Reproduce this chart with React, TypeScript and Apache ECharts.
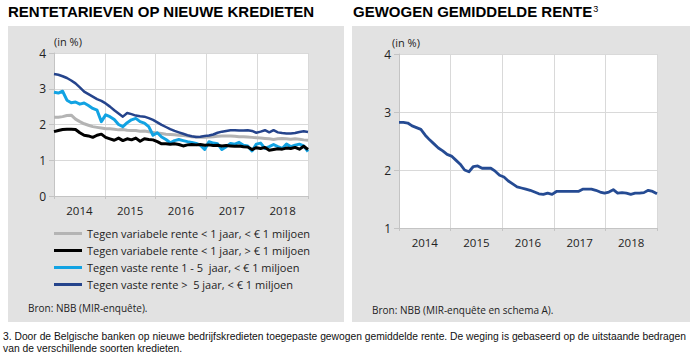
import React, { useEffect, useRef } from "react";
import * as echarts from "echarts";

const years = ["2014", "2015", "2016", "2017", "2018"];

const variabeleKlein = [
  2.2, 2.2, 2.22, 2.25, 2.26, 2.15, 2.08, 2.02, 1.98, 1.94,
  1.92, 1.9, 1.88, 1.88, 1.87, 1.85, 1.86, 1.84, 1.83, 1.83,
  1.81, 1.82, 1.8, 1.78, 1.76, 1.75, 1.73, 1.72, 1.71, 1.7,
  1.69, 1.68, 1.66, 1.65, 1.64, 1.64, 1.65, 1.66, 1.67, 1.68,
  1.68, 1.68, 1.67, 1.66, 1.66, 1.65, 1.64, 1.63, 1.62, 1.61,
  1.6, 1.58, 1.6, 1.61, 1.6, 1.59, 1.6, 1.59, 1.57, 1.56,
];

const variabeleGroot = [
  1.8, 1.83, 1.86, 1.87, 1.87, 1.86, 1.77, 1.7, 1.68, 1.64,
  1.7, 1.73, 1.64, 1.6, 1.56, 1.62, 1.55, 1.6, 1.57, 1.62,
  1.53, 1.6, 1.58, 1.57, 1.52, 1.46, 1.46, 1.45, 1.46, 1.44,
  1.4, 1.43, 1.44, 1.43, 1.44, 1.42, 1.43, 1.41, 1.42, 1.4,
  1.41, 1.4, 1.39, 1.4, 1.38, 1.37, 1.3, 1.35, 1.33, 1.36,
  1.28, 1.3, 1.32, 1.31, 1.34, 1.33, 1.36, 1.31, 1.39, 1.3,
];

const vasteKort = [
  2.9, 2.88, 2.93, 2.68, 2.61, 2.63, 2.57, 2.6, 2.53, 2.45,
  2.4, 2.08, 2.27, 2.22, 2.14, 2.0, 1.94, 2.05, 2.13, 2.17,
  2.08, 2.04, 1.94, 1.7, 1.77, 1.65, 1.58, 1.49, 1.55, 1.58,
  1.55, 1.52, 1.5, 1.47, 1.42, 1.3, 1.52, 1.48, 1.46, 1.3,
  1.38, 1.47, 1.45, 1.5, 1.42, 1.4, 1.26, 1.45, 1.48, 1.33,
  1.38, 1.44, 1.38, 1.33, 1.45, 1.38, 1.42, 1.45, 1.4, 1.24,
];

const vasteLang = [
  3.41, 3.39, 3.35, 3.3, 3.23, 3.15, 3.04, 2.92, 2.85, 2.78,
  2.71, 2.66, 2.59, 2.5, 2.4, 2.31, 2.22, 2.32, 2.29, 2.25,
  2.23, 2.22, 2.18, 2.13, 2.06, 1.99, 1.93, 1.87, 1.82, 1.78,
  1.74, 1.7, 1.67, 1.65, 1.66, 1.68, 1.69, 1.72, 1.77, 1.8,
  1.82, 1.84, 1.84, 1.83, 1.83, 1.84, 1.82, 1.77, 1.8, 1.84,
  1.78, 1.84, 1.78, 1.76, 1.75, 1.75, 1.76, 1.79, 1.81, 1.79,
];

const gewogen = [
  2.82, 2.82, 2.81, 2.76, 2.73, 2.7, 2.6, 2.52, 2.45, 2.38,
  2.33, 2.27, 2.24, 2.17, 2.1, 2.0, 1.97, 2.06, 2.07, 2.03,
  2.03, 2.03, 1.98, 1.91, 1.88, 1.81, 1.76, 1.71, 1.69, 1.67,
  1.65, 1.62, 1.59, 1.58, 1.6, 1.58, 1.63, 1.63, 1.63, 1.63,
  1.63, 1.63, 1.67, 1.67, 1.67, 1.65, 1.62, 1.6, 1.62, 1.66,
  1.6, 1.61, 1.6, 1.58, 1.6, 1.6, 1.61, 1.65, 1.63, 1.59,
];

const seriesNames = [
  "Tegen variabele rente < 1 jaar, < € 1 miljoen",
  "Tegen variabele rente < 1 jaar, > € 1 miljoen",
  "Tegen vaste rente 1 - 5  jaar, < € 1 miljoen",
  "Tegen vaste rente >  5 jaar, < € 1 miljoen",
];

const FONT = "'Open Sans', 'Noto Sans', sans-serif";
const ARIAL = "'Liberation Sans', Arial, sans-serif";

const toPoints = (arr: number[]) => arr.map((v, i) => [i, v]);

export default function App() {
  const ref = useRef<HTMLDivElement>(null);

  useEffect(() => {
    const chart = echarts.init(ref.current!, null, { renderer: "svg" });

    const catAxis = (gridIndex: number) => ({
      type: "category",
      gridIndex,
      data: years,
      boundaryGap: true,
      position: "bottom",
      axisLine: { show: true, lineStyle: { color: "#c4c4c4", width: 1 } },
      axisTick: { show: true, length: 3, lineStyle: { color: "#c4c4c4" } },
      axisLabel: { fontSize: 11.5, color: "#222", margin: 8, fontFamily: FONT },
      splitLine: { show: true, lineStyle: { color: "#d9d9d9", width: 1 } },
    });
    const valAxisX = (gridIndex: number) => ({
      type: "value",
      gridIndex,
      min: 0,
      max: 59,
      show: false,
    });
    const yAxis = (gridIndex: number, min: number) => ({
      type: "value",
      gridIndex,
      min,
      max: 4,
      interval: 1,
      axisLine: { show: true, lineStyle: { color: "#c4c4c4" } },
      axisTick: { show: true, length: 5, lineStyle: { color: "#c4c4c4" } },
      axisLabel: { fontSize: 12, color: "#222", margin: 8, fontFamily: FONT },
      splitLine: { show: true, lineStyle: { color: "#d9d9d9", width: 1 } },
    });

    const lineSeries = (
      name: string,
      data: number[],
      color: string,
      width: number,
      xAxisIndex: number,
      yAxisIndex: number,
      z: number
    ) => ({
      type: "line",
      name,
      data: toPoints(data),
      xAxisIndex,
      yAxisIndex,
      showSymbol: false,
      symbol: "none",
      z,
      lineStyle: { color, width, join: "round" },
      itemStyle: { color },
    });

    chart.setOption({
      animation: false,
      grid: [
        { left: 54, top: 53, width: 254, height: 143, show: true, backgroundColor: "#ffffff", borderWidth: 0 },
        { left: 399, top: 54, width: 258, height: 174, show: true, backgroundColor: "#ffffff", borderWidth: 0 },
      ],
      xAxis: [valAxisX(0), catAxis(0), valAxisX(1), catAxis(1)],
      yAxis: [yAxis(0, 0), yAxis(1, 1)],
      legend: {
        show: true,
        orient: "vertical",
        left: 54,
        top: 227,
        padding: 0,
        icon: "rect",
        itemWidth: 28,
        itemHeight: 3,
        itemGap: 4,
        itemStyle: { borderWidth: 0, borderColor: "transparent" },
        data: seriesNames,
        textStyle: { fontSize: 11, color: "#222", fontFamily: FONT, lineHeight: 13 },
      },
      series: [
        lineSeries(seriesNames[0], variabeleKlein, "#b4b4b4", 3, 0, 0, 2),
        lineSeries(seriesNames[3], vasteLang, "#25448c", 2.5, 0, 0, 3),
        lineSeries(seriesNames[2], vasteKort, "#12a3e3", 3, 0, 0, 4),
        lineSeries(seriesNames[1], variabeleGroot, "#000000", 3, 0, 0, 5),
        lineSeries("Gewogen gemiddelde rente", gewogen, "#254b93", 2.8, 2, 1, 2),
      ],
      graphic: [
        { type: "rect", z: -10, shape: { x: 8, y: 26, width: 336, height: 296 }, style: { fill: "#e2e2e2" } },
        { type: "rect", z: -10, shape: { x: 352, y: 26, width: 338, height: 296 }, style: { fill: "#e2e2e2" } },
        {
          type: "text",
          x: 8,
          y: 4,
          style: { text: "RENTETARIEVEN OP NIEUWE KREDIETEN", font: `bold 15px ${ARIAL}`, fill: "#000" },
        },
        {
          type: "text",
          x: 353,
          y: 4,
          style: {
            text: "GEWOGEN GEMIDDELDE RENTE{sup|3}",
            font: `bold 15px ${ARIAL}`,
            fill: "#000",
            rich: { sup: { fontSize: 9, fontWeight: "normal", fontFamily: ARIAL, verticalAlign: "top", padding: [0, 0, 6, 1] } },
          },
        },
        { type: "text", x: 54, y: 36, style: { text: "(in %)", font: `11px ${FONT}`, fill: "#222" } },
        { type: "text", x: 392, y: 37, style: { text: "(in %)", font: `11px ${FONT}`, fill: "#222" } },
        { type: "text", x: 28, y: 303, style: { text: "Bron: NBB (MIR-enquête).", font: `10px ${FONT}`, fill: "#222" } },
        { type: "text", x: 372, y: 305, style: { text: "Bron: NBB (MIR-enquête en schema A).", font: `10px ${FONT}`, fill: "#222" } },
        {
          type: "text",
          x: 3,
          y: 330,
          style: {
            text:
              "3. Door de Belgische banken op nieuwe bedrijfskredieten toegepaste gewogen gemiddelde rente. De weging is gebaseerd op de uitstaande bedragen\nvan de verschillende soorten kredieten.",
            font: `10.3px ${ARIAL}`,
            lineHeight: 12,
            fill: "#111",
          },
        },
      ],
    });

    return () => chart.dispose();
  }, []);

  return (
    <div
      ref={ref}
      style={{ position: "absolute", left: 0, top: 0, width: 700, height: 357, background: "#ffffff" }}
    />
  );
}
